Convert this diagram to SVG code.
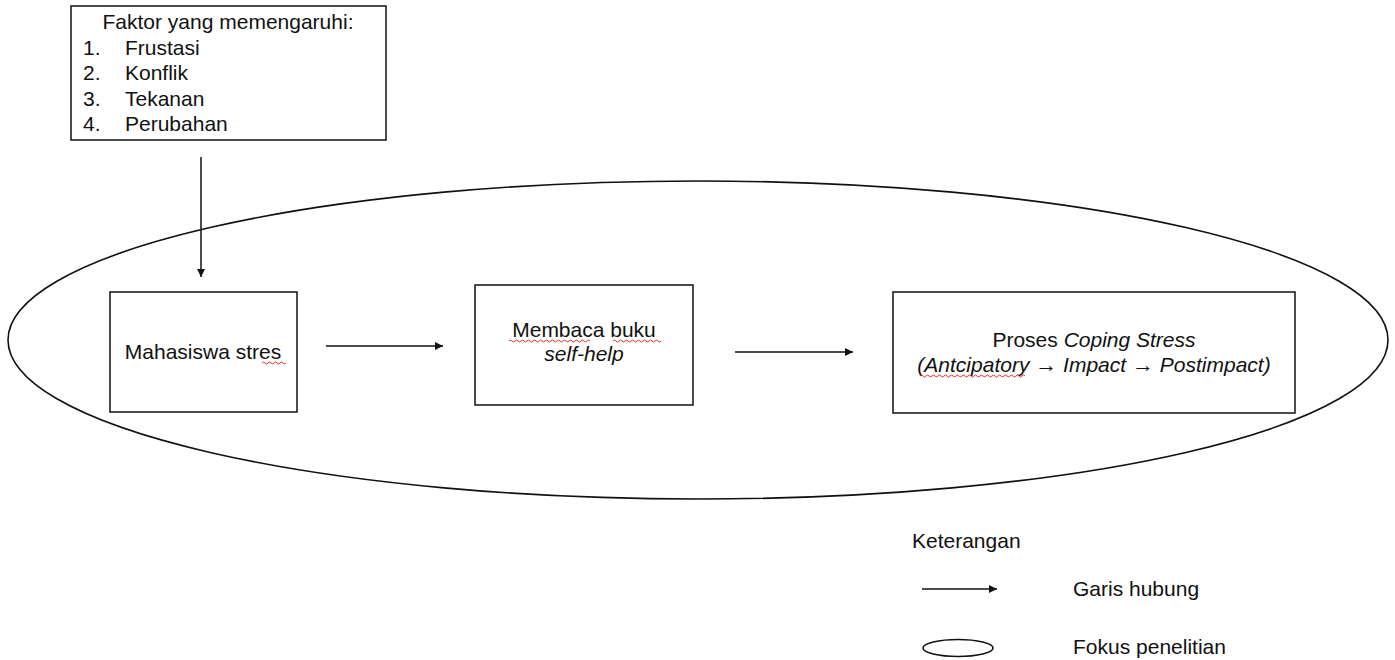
<svg xmlns="http://www.w3.org/2000/svg" width="1395" height="660" viewBox="0 0 1395 660">
<style>
  text { font-family: "Liberation Sans", Arial, sans-serif; font-size: 21px; fill: #111111; }
  .box { fill: #ffffff; stroke: #111111; stroke-width: 1.5; }
  .oval { fill: none; stroke: #111111; stroke-width: 1.6; }
  .conn { stroke: #111111; stroke-width: 1.5; fill: none; marker-end: url(#arrow); }
  .mid { text-anchor: middle; }
  .it { font-style: italic; }
  .arr { font-style: normal; font-size: 22px; }
  .squig { fill: none; stroke: #e03030; stroke-width: 1; }
</style>
<defs>
  <marker id="arrow" viewBox="0 0 10 10" refX="10" refY="5" markerWidth="8" markerHeight="8" markerUnits="userSpaceOnUse" orient="auto">
    <path d="M0,0 L10,5 L0,10 z" fill="#111111"/>
  </marker>
</defs>
<rect width="1395" height="660" fill="#ffffff"/>

<g id="focus-ellipse">
  <ellipse class="oval" cx="698" cy="340" rx="690" ry="159"/>
</g>

<g id="factors">
  <rect class="box" x="71" y="6" width="315" height="134"/>
  <text class="mid" x="228" y="29">Faktor yang memengaruhi:</text>
  <text x="83" y="54.5">1.</text><text x="125" y="54.5">Frustasi</text>
  <text x="83" y="80">2.</text><text x="125" y="80">Konflik</text>
  <text x="83" y="105.5">3.</text><text x="125" y="105.5">Tekanan</text>
  <text x="83" y="131">4.</text><text x="125" y="131">Perubahan</text>
</g>

<g id="mahasiswa">
  <rect class="box" x="110" y="292" width="187" height="120"/>
  <text class="mid" x="203" y="359">Mahasiswa stres</text>
  <path class="squig" d="M262,363 q1.5,-2 3,0 t3,0 t3,0 t3,0 t3,0 t3,0 t3,0 t3,0"/>
</g>

<g id="membaca">
  <rect class="box" x="475" y="285" width="218" height="120"/>
  <text class="mid" x="584" y="337">Membaca buku</text>
  <text class="mid it" x="584" y="361">self-help</text>
  <path class="squig" d="M509,341 q1.5,-2 3,0 t3,0 t3,0 t3,0 t3,0 t3,0 t3,0 t3,0 t3,0 t3,0 t3,0 t3,0 t3,0 t3,0 t3,0 t3,0 t3,0 t3,0 t3,0 t3,0 t3,0 t3,0 t3,0 t3,0 t3,0 t3,0 t3,0 M613,341 q1.5,-2 3,0 t3,0 t3,0 t3,0 t3,0 t3,0 t3,0 t3,0 t3,0 t3,0 t3,0 t3,0 t3,0 t3,0 t3,0 t3,0"/>
</g>

<g id="coping">
  <rect class="box" x="893" y="292" width="402" height="121"/>
  <text class="mid" x="1094" y="347">Proses <tspan class="it">Coping Stress</tspan></text>
  <text class="mid it" x="1094" y="372">(Antcipatory <tspan class="arr">→</tspan> Impact <tspan class="arr">→</tspan> Postimpact)</text>
  <path class="squig" d="M920,376 q1.5,-2 3,0 t3,0 t3,0 t3,0 t3,0 t3,0 t3,0 t3,0 t3,0 t3,0 t3,0 t3,0 t3,0 t3,0 t3,0 t3,0 t3,0 t3,0 t3,0 t3,0 t3,0 t3,0 t3,0 t3,0 t3,0 t3,0 t3,0 t3,0 t3,0 t3,0 t3,0 t3,0 t3,0 t3,0 t3,0"/>
</g>

<g id="connectors">
  <line class="conn" x1="201" y1="157" x2="201" y2="277"/>
  <line class="conn" x1="326" y1="346" x2="443" y2="346"/>
  <line class="conn" x1="735" y1="352" x2="853" y2="352"/>
</g>

<g id="legend">
  <text x="912" y="548">Keterangan</text>
  <line class="conn" x1="922" y1="589" x2="997" y2="589"/>
  <text x="1073" y="596">Garis hubung</text>
  <ellipse class="oval" cx="958" cy="648" rx="35" ry="8.5"/>
  <text x="1073" y="654">Fokus penelitian</text>
</g>
</svg>
